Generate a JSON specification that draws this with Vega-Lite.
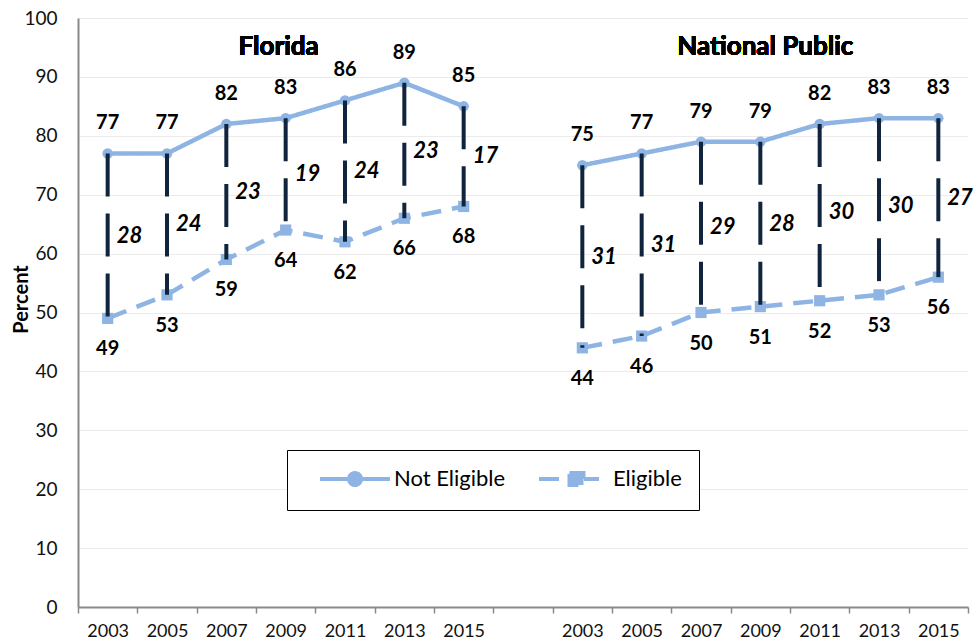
{
  "$schema": "https://vega.github.io/schema/vega-lite/v6.json",
  "width": 890,
  "height": 589,
  "autosize": {"type": "none"},
  "padding": {"left": 78, "top": 18, "right": 5, "bottom": 36},
  "background": "white",
  "config": {
    "view": {"stroke": null},
    "font": "Lato",
    "legend": {
      "orient": "none",
      "legendX": 209,
      "legendY": 432,
      "direction": "horizontal",
      "strokeColor": "#000000",
      "fillColor": "#ffffff",
      "padding": 17,
      "labelFont": "Lato",
      "labelFontSize": 22,
      "labelColor": "#000000",
      "symbolSize": 400,
      "symbolOffset": 39,
      "labelOffset": 27,
      "columnPadding": 17,
      "title": null
    }
  },
  "datasets": {
    "rows": [
      {"key": "F2003", "region": "Florida", "Not Eligible": 77, "Eligible": 49, "gap": 28},
      {"key": "F2005", "region": "Florida", "Not Eligible": 77, "Eligible": 53, "gap": 24},
      {"key": "F2007", "region": "Florida", "Not Eligible": 82, "Eligible": 59, "gap": 23},
      {"key": "F2009", "region": "Florida", "Not Eligible": 83, "Eligible": 64, "gap": 19},
      {"key": "F2011", "region": "Florida", "Not Eligible": 86, "Eligible": 62, "gap": 24},
      {"key": "F2013", "region": "Florida", "Not Eligible": 89, "Eligible": 66, "gap": 23},
      {"key": "F2015", "region": "Florida", "Not Eligible": 85, "Eligible": 68, "gap": 17},
      {"key": "N2003", "region": "National Public", "Not Eligible": 75, "Eligible": 44, "gap": 31},
      {"key": "N2005", "region": "National Public", "Not Eligible": 77, "Eligible": 46, "gap": 31},
      {"key": "N2007", "region": "National Public", "Not Eligible": 79, "Eligible": 50, "gap": 29},
      {"key": "N2009", "region": "National Public", "Not Eligible": 79, "Eligible": 51, "gap": 28},
      {"key": "N2011", "region": "National Public", "Not Eligible": 82, "Eligible": 52, "gap": 30},
      {"key": "N2013", "region": "National Public", "Not Eligible": 83, "Eligible": 53, "gap": 30},
      {"key": "N2015", "region": "National Public", "Not Eligible": 83, "Eligible": 56, "gap": 27}
    ]
  },
  "data": {"name": "rows"},
  "encoding": {
    "x": {
      "field": "key",
      "type": "ordinal",
      "title": null,
      "scale": {
        "domain": ["F2003", "F2005", "F2007", "F2009", "F2011", "F2013", "F2015", "gap", "N2003", "N2005", "N2007", "N2009", "N2011", "N2013", "N2015"],
        "paddingInner": 0,
        "paddingOuter": 0
      },
      "axis": {
        "tickBand": "extent",
        "labelExpr": "isString(datum.value) && datum.value != 'gap' ? substring(datum.value, 1) : ''",
        "labelAngle": 0,
        "labelOverlap": false,
        "labelFontSize": 18,
        "labelColor": "#111111",
        "labelPadding": 9,
        "domainColor": "#898989",
        "domainWidth": 2,
        "tickColor": "#898989",
        "tickWidth": 1.5,
        "tickSize": 6,
        "grid": false
      }
    }
  },
  "layer": [
    {
      "transform": [{"fold": ["Not Eligible", "Eligible"], "as": ["series", "value"]}],
      "mark": {"type": "line", "strokeWidth": 4.5},
      "encoding": {
        "y": {
          "field": "value",
          "type": "quantitative",
          "title": "Percent",
          "scale": {"domain": [0, 100]},
          "axis": {
            "values": [0, 10, 20, 30, 40, 50, 60, 70, 80, 90, 100],
            "grid": true,
            "gridColor": "#ebebeb",
            "gridWidth": 1,
            "domainColor": "#898989",
            "domainWidth": 2,
            "ticks": false,
            "labelFontSize": 19,
            "labelColor": "#111111",
            "labelPadding": 21,
            "titleFontSize": 20,
            "titleFontWeight": "bold",
            "titleColor": "#000000",
            "titleBaseline": "alphabetic",
            "titleX": -51,
            "titleY": 281
          }
        },
        "color": {
          "field": "series",
          "type": "nominal",
          "scale": {"domain": ["Not Eligible", "Eligible"], "range": ["#8eb4e3", "#8eb4e3"]},
          "legend": {
            "encode": {
              "symbols": {
                "update": {
                  "shape": {"signal": "datum.value === 'Eligible' ? 'M-3.5,0L-1.3,0M1.0,0L2.5,0M-0.45,-0.6L0.95,-0.6L0.95,0.6L-0.45,0.6Z' : 'M-3.5,0L3.5,0M-0.6,0A0.6,0.6,0,1,0,0.6,0A0.6,0.6,0,1,0,-0.6,0Z'"},
                  "fill": {"value": "#8eb4e3"},
                  "stroke": {"value": "#8eb4e3"},
                  "strokeWidth": {"value": 4},
                  "opacity": {"value": 1}
                }
              }
            }
          }
        },
        "strokeDash": {
          "field": "series",
          "type": "nominal",
          "scale": {"domain": ["Not Eligible", "Eligible"], "range": [[1, 0], [20, 11]]},
          "legend": {
            "encode": {
              "symbols": {
                "update": {
                  "shape": {"signal": "datum.value === 'Eligible' ? 'M-3.5,0L-1.3,0M1.0,0L2.5,0M-0.45,-0.6L0.95,-0.6L0.95,0.6L-0.45,0.6Z' : 'M-3.5,0L3.5,0M-0.6,0A0.6,0.6,0,1,0,0.6,0A0.6,0.6,0,1,0,-0.6,0Z'"},
                  "fill": {"value": "#8eb4e3"},
                  "stroke": {"value": "#8eb4e3"},
                  "strokeWidth": {"value": 4},
                  "opacity": {"value": 1}
                }
              }
            }
          }
        },
        "detail": {"field": "region", "type": "nominal"}
      }
    },
    {
      "mark": {"type": "point", "filled": true, "opacity": 1, "size": 110, "shape": "circle", "color": "#8eb4e3"},
      "encoding": {
        "y": {"field": "Not Eligible", "type": "quantitative"}
      }
    },
    {
      "mark": {"type": "point", "filled": true, "opacity": 1, "size": 125, "shape": "square", "color": "#8eb4e3"},
      "encoding": {
        "y": {"field": "Eligible", "type": "quantitative"}
      }
    },
    {
      "mark": {"type": "rule", "stroke": "#10243e", "strokeWidth": 4, "strokeDash": [43, 17]},
      "encoding": {
        "y": {"field": "Not Eligible", "type": "quantitative"},
        "y2": {"field": "Eligible"}
      }
    },
    {
      "mark": {"type": "text", "dy": -30, "fontSize": 20, "fontWeight": "bold", "color": "#000000"},
      "encoding": {
        "y": {"field": "Not Eligible", "type": "quantitative"},
        "text": {"field": "Not Eligible", "type": "quantitative"}
      }
    },
    {
      "mark": {"type": "text", "dy": 31, "fontSize": 20, "fontWeight": "bold", "color": "#000000"},
      "encoding": {
        "y": {"field": "Eligible", "type": "quantitative"},
        "text": {"field": "Eligible", "type": "quantitative"}
      }
    },
    {
      "transform": [
        {"fold": ["Not Eligible", "Eligible"], "as": ["s", "v"]},
        {"aggregate": [{"op": "mean", "field": "v", "as": "mid"}], "groupby": ["key", "gap"]}
      ],
      "mark": {"type": "text", "dx": 9, "align": "left", "baseline": "middle", "fontSize": 22, "fontWeight": "bold", "fontStyle": "italic", "color": "#000000"},
      "encoding": {
        "y": {"field": "mid", "type": "quantitative"},
        "text": {"field": "gap", "type": "quantitative"}
      }
    },
    {
      "mark": {"type": "text", "dx": -7, "fontSize": 26, "fontWeight": "bold", "color": "#000000", "baseline": "middle"},
      "encoding": {
        "x": {"datum": "F2009"},
        "y": {"datum": 95},
        "text": {"value": "Florida"}
      }
    },
    {
      "mark": {"type": "text", "dx": 5, "fontSize": 26, "fontWeight": "bold", "color": "#000000", "baseline": "middle"},
      "encoding": {
        "x": {"datum": "N2009"},
        "y": {"datum": 95},
        "text": {"value": "National Public"}
      }
    }
  ]
}
